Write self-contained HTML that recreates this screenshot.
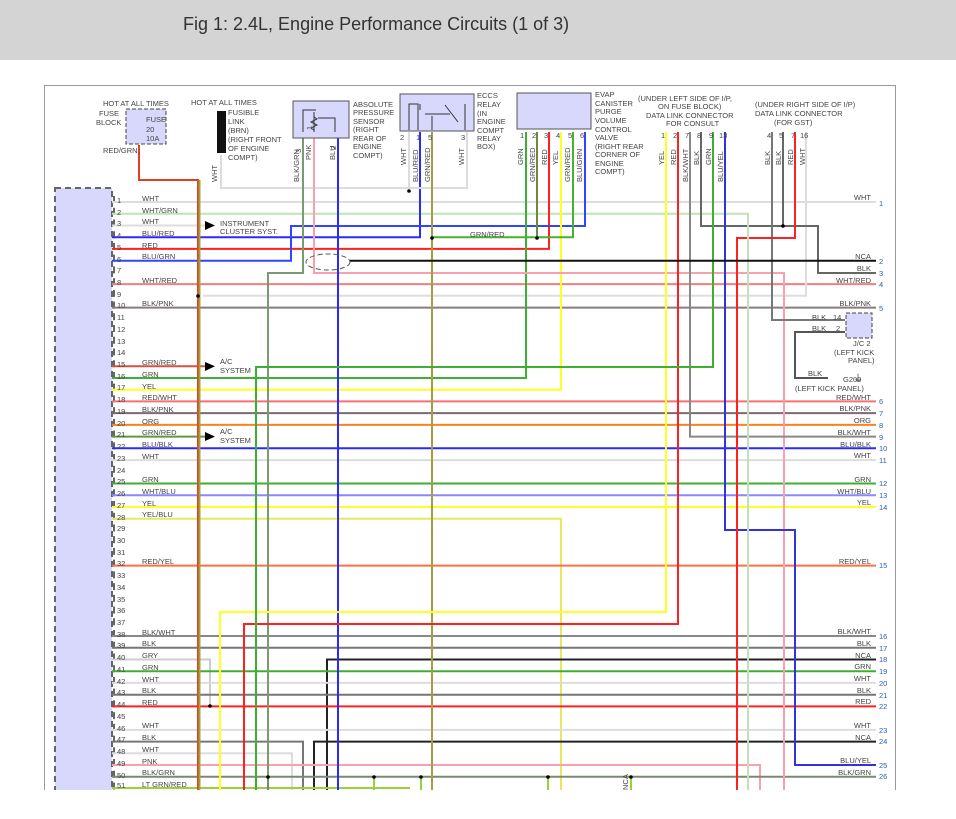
<!DOCTYPE html>
<html><head><meta charset="utf-8"><style>
body{margin:0;background:#fff;}
svg{display:block;font-family:"Liberation Sans",sans-serif;}
.t{font-size:7.5px;fill:#444;}
.n{font-size:7.5px;fill:#444;}
.r{font-size:7.5px;fill:#444;text-anchor:end;}
.rn{font-size:7.5px;fill:#2a5db0;}
line,polyline{fill:none;stroke-width:2;}
</style></head><body>
<svg width="956" height="819" viewBox="0 0 956 819">
<rect x="0" y="0" width="956" height="60" fill="#d4d4d4"/>
<text x="183" y="30" font-size="18" fill="#333">Fig 1: 2.4L, Engine Performance Circuits (1 of 3)</text>
<rect x="44.5" y="85.5" width="851" height="740" fill="none" stroke="#999" stroke-width="1"/>
<rect x="896" y="85" width="60" height="734" fill="#fff"/>

<rect x="55" y="188" width="57" height="610" fill="#d8d8fc" stroke="#666" stroke-width="2" stroke-dasharray="6,4"/>
<line x1="114" y1="196" x2="114" y2="790" stroke="#666" stroke-width="1.5" stroke-dasharray="7,4.73"/>

<g stroke-width="2">
<line x1="112" y1="202" x2="876" y2="202" stroke="#ddd"/>
<line x1="112" y1="213.7" x2="749" y2="213.7" stroke="#c4e0b8"/>
<line x1="112" y1="225.5" x2="205" y2="225.5" stroke="#ddd"/>
<polyline points="112,237.2 420,237.2 420,132" stroke="#2a2aff"/>
<polyline points="112,248.9 549,248.9 549,132" stroke="#ff2020"/>
<polyline points="112,260.7 291,260.7 291,226 585,226 585,132" stroke="#3344ff"/>
<polyline points="112,284.1 876,284.1" stroke="#f08080"/>
<polyline points="203,295.8 806,295.8 806,132" stroke="#ddd"/>
<line x1="112" y1="307.6" x2="876" y2="307.6" stroke="#8a7a80"/>
<line x1="112" y1="366.2" x2="205" y2="366.2" stroke="#d85040"/>
<polyline points="112,378 526,378 526,132" stroke="#3cb030"/>
<polyline points="112,389.7 561,389.7 561,132" stroke="#ffff20"/>
<line x1="112" y1="401.4" x2="876" y2="401.4" stroke="#f87070"/>
<line x1="112" y1="413.1" x2="876" y2="413.1" stroke="#806870"/>
<line x1="112" y1="424.9" x2="876" y2="424.9" stroke="#ff8020"/>
<line x1="112" y1="436.6" x2="205" y2="436.6" stroke="#5a9a40"/>
<line x1="112" y1="448.3" x2="876" y2="448.3" stroke="#2a2aff"/>
<line x1="112" y1="460.1" x2="876" y2="460.1" stroke="#ddd"/>
<line x1="112" y1="483.5" x2="876" y2="483.5" stroke="#3cb030"/>
<line x1="112" y1="495.3" x2="876" y2="495.3" stroke="#8888ff"/>
<line x1="112" y1="507" x2="876" y2="507" stroke="#ffff20"/>
<polyline points="112,518.7 561,518.7 561,790" stroke="#e8e860"/>
<line x1="112" y1="565.6" x2="876" y2="565.6" stroke="#ff7040"/>
<line x1="112" y1="636" x2="876" y2="636" stroke="#888"/>
<line x1="112" y1="647.7" x2="876" y2="647.7" stroke="#777"/>
<polyline points="112,659.5 210,659.5 210,706" stroke="#ccc"/>
<polyline points="327,790 327,659.5 876,659.5" stroke="#222"/>
<line x1="112" y1="671.2" x2="876" y2="671.2" stroke="#3cb030"/>
<line x1="112" y1="682.9" x2="876" y2="682.9" stroke="#ddd"/>
<line x1="112" y1="694.7" x2="876" y2="694.7" stroke="#777"/>
<line x1="112" y1="706.4" x2="876" y2="706.4" stroke="#ff2020"/>
<line x1="112" y1="729.9" x2="876" y2="729.9" stroke="#ddd"/>
<polyline points="314,790 314,741.6 876,741.6" stroke="#222"/>
<polyline points="112,741.6 303,741.6 303,790" stroke="#777"/>
<polyline points="112,753.3 292,753.3 292,790" stroke="#ddd"/>
<polyline points="112,765 760,765 760,790" stroke="#f8a0b0"/>
<line x1="112" y1="776.8" x2="876" y2="776.8" stroke="#7a8a70"/>
<line x1="112" y1="788" x2="410" y2="788" stroke="#9ad040"/>

<polyline points="139,145 139,180 198,180 198,790" stroke="#e04020"/>
<line x1="199.5" y1="180" x2="199.5" y2="790" stroke="#a0a040" stroke-width="1"/>
<polyline points="221,155 221,188 467,188 467,132" stroke="#ddd"/>
<line x1="409" y1="132" x2="409" y2="188" stroke="#ddd"/>
<polyline points="303,132 303,273 268,273 268,790" stroke="#7a9a70"/>
<polyline points="314,132 314,273 784,273 784,790" stroke="#f8a0b0"/>
<line x1="338" y1="132" x2="338" y2="790" stroke="#2a2aff"/>
<line x1="432" y1="132" x2="432" y2="790" stroke="#a0a040"/>
<polyline points="432,237.2 573,237.2 573,132" stroke="#4ab030"/>
<line x1="537" y1="132" x2="537" y2="237" stroke="#6a8a40"/>
<polyline points="666,132 666,612 220,612 220,790" stroke="#ffff20"/>
<polyline points="678,132 678,624 244,624 244,790" stroke="#ff2020"/>
<polyline points="690,132 690,436.6 876,436.6" stroke="#888"/>
<polyline points="701,132 701,226 818,226 818,273 876,273" stroke="#666"/>
<polyline points="713,132 713,367 256,367 256,790" stroke="#3cb030"/>
<polyline points="725,132 725,530 795,530 795,765 876,765" stroke="#3333dd"/>
<polyline points="772,132 772,320 845,320" stroke="#777"/>
<line x1="783" y1="132" x2="783" y2="226" stroke="#666"/>
<polyline points="795,132 795,238 737,238 737,790" stroke="#ff2020"/>
<line x1="748" y1="213.7" x2="748" y2="790" stroke="#c4e0b8"/>
<polyline points="845,332 795,332 795,378 828,378" stroke="#555"/>
<line x1="350" y1="260.7" x2="876" y2="260.7" stroke="#111"/>
<line x1="268" y1="776.8" x2="268" y2="790" stroke="#7a8a70"/>
<line x1="374" y1="776.8" x2="374" y2="790" stroke="#9ad040"/>
<line x1="421" y1="776.8" x2="421" y2="790" stroke="#9ad040"/>
<line x1="548" y1="776.8" x2="548" y2="790" stroke="#9ad040"/>
<line x1="631" y1="776.8" x2="631" y2="790" stroke="#9ad040"/>
</g>
<rect x="0" y="790" width="956" height="29" fill="#fff"/>

<ellipse cx="328" cy="262" rx="22" ry="8" fill="none" stroke="#555" stroke-width="1" stroke-dasharray="5,3"/>

<g fill="#000">
<circle cx="409" cy="191" r="1.8"/><circle cx="198" cy="296" r="1.8"/><circle cx="432" cy="238" r="1.8"/>
<circle cx="537" cy="238" r="1.8"/><circle cx="783" cy="226" r="1.8"/><circle cx="210" cy="706" r="1.8"/>
<circle cx="268" cy="777" r="1.8"/><circle cx="374" cy="777" r="1.8"/><circle cx="421" cy="777" r="1.8"/>
<circle cx="548" cy="777" r="1.8"/><circle cx="631" cy="777" r="1.8"/>
<polygon points="205,221 215,225.5 205,230"/><polygon points="205,362 215,366.2 205,371"/><polygon points="205,432 215,436.6 205,441"/>
</g>

<rect x="126" y="109" width="40" height="35" fill="#d8d8fc" stroke="#444" stroke-dasharray="4,2"/>
<rect x="217" y="111" width="9" height="42" fill="#111"/>
<rect x="293" y="101" width="56" height="37" fill="#d8d8fc" stroke="#555"/>
<rect x="400" y="94" width="74" height="37" fill="#d8d8fc" stroke="#555"/>
<rect x="517" y="93" width="74" height="36" fill="#d8d8fc" stroke="#555"/>
<rect x="846" y="313" width="26" height="25" fill="#d8d8fc" stroke="#444" stroke-dasharray="4,2"/>
<g fill="none" stroke="#333" stroke-width="1">
<path d="M303,132 V110 H316 M314,132 V112 M314,117 l3,2 -6,3 6,3 -6,3 3,2 M318,118 H335 V132"/>
<path d="M409,130 V104 H418 V130 M420,104 v6 M432,130 V116 M425,114 H450 M445,105 L458,122 M465,130 V104"/>
</g>
<text x="853" y="382" font-size="10" fill="#444">⏚</text>

<g class="t">
<text x="103" y="106">HOT AT ALL TIMES</text>
<text x="99" y="116">FUSE</text><text x="96" y="125">BLOCK</text>
<text x="146" y="122">FUSE</text><text x="146" y="132">20</text><text x="146" y="141">10A</text>
<text x="103" y="153">RED/GRN</text>
<text x="191" y="105">HOT AT ALL TIMES</text>
<text x="228" y="115">FUSIBLE</text><text x="228" y="124">LINK</text><text x="228" y="133">(BRN)</text>
<text x="228" y="142">(RIGHT FRONT</text><text x="228" y="151">OF ENGINE</text><text x="228" y="160">COMPT)</text>
<text x="353" y="107">ABSOLUTE</text><text x="353" y="115">PRESSURE</text><text x="353" y="124">SENSOR</text>
<text x="353" y="132">(RIGHT</text><text x="353" y="141">REAR OF</text><text x="353" y="149">ENGINE</text><text x="353" y="158">COMPT)</text>
<text x="477" y="98">ECCS</text><text x="477" y="107">RELAY</text><text x="477" y="116">(IN</text><text x="477" y="124">ENGINE</text>
<text x="477" y="133">COMPT</text><text x="477" y="141">RELAY</text><text x="477" y="149">BOX)</text>
<text x="595" y="97">EVAP</text><text x="595" y="106">CANISTER</text><text x="595" y="114">PURGE</text><text x="595" y="123">VOLUME</text>
<text x="595" y="132">CONTROL</text><text x="595" y="140">VALVE</text><text x="595" y="149">(RIGHT REAR</text>
<text x="595" y="157">CORNER OF</text><text x="595" y="166">ENGINE</text><text x="595" y="174">COMPT)</text>
<text x="638" y="101">(UNDER LEFT SIDE OF I/P,</text><text x="658" y="109">ON FUSE BLOCK)</text>
<text x="646" y="118">DATA LINK CONNECTOR</text><text x="666" y="126">FOR CONSULT</text>
<text x="755" y="107">(UNDER RIGHT SIDE OF I/P)</text><text x="755" y="116">DATA LINK CONNECTOR</text><text x="774" y="125">(FOR GST)</text>
<text x="220" y="226">INSTRUMENT</text><text x="220" y="234">CLUSTER SYST.</text>
<text x="220" y="364">A/C</text><text x="220" y="373">SYSTEM</text>
<text x="220" y="434">A/C</text><text x="220" y="443">SYSTEM</text>
<text x="470" y="237">GRN/RED</text>
<text x="812" y="320">BLK</text><text x="833" y="320">14</text>
<text x="812" y="331">BLK</text><text x="836" y="331">2</text>
<text x="853" y="346">J/C 2</text><text x="834" y="355">(LEFT KICK</text><text x="848" y="363">PANEL)</text>
<text x="808" y="376">BLK</text><text x="843" y="382">G200</text>
<text x="795" y="391">(LEFT KICK PANEL)</text>
</g>

<g class="t">
<text transform="translate(217,182) rotate(-90)">WHT</text>
<text transform="translate(299,182) rotate(-90)">BLK/GRN</text>
<text transform="translate(311,160) rotate(-90)">PNK</text>
<text transform="translate(335,160) rotate(-90)">BLU</text>
<text transform="translate(301,153) rotate(-90)">3</text><text transform="translate(312,130) rotate(-90)">1</text><text transform="translate(336,150) rotate(-90)">2</text>
<text transform="translate(406,165) rotate(-90)">WHT</text>
<text transform="translate(418,182) rotate(-90)">BLU/RED</text>
<text transform="translate(430,182) rotate(-90)">GRN/RED</text>
<text transform="translate(464,165) rotate(-90)">WHT</text>
<text transform="translate(523,165) rotate(-90)">GRN</text>
<text transform="translate(535,182) rotate(-90)">GRN/RED</text>
<text transform="translate(547,165) rotate(-90)">RED</text>
<text transform="translate(558,165) rotate(-90)">YEL</text>
<text transform="translate(570,182) rotate(-90)">GRN/RED</text>
<text transform="translate(582,182) rotate(-90)">BLU/GRN</text>
<text transform="translate(664,165) rotate(-90)">YEL</text>
<text transform="translate(676,165) rotate(-90)">RED</text>
<text transform="translate(688,182) rotate(-90)">BLK/WHT</text>
<text transform="translate(699,165) rotate(-90)">BLK</text>
<text transform="translate(711,165) rotate(-90)">GRN</text>
<text transform="translate(723,182) rotate(-90)">BLU/YEL</text>
<text transform="translate(770,165) rotate(-90)">BLK</text>
<text transform="translate(781,165) rotate(-90)">BLK</text>
<text transform="translate(793,165) rotate(-90)">RED</text>
<text transform="translate(805,165) rotate(-90)">WHT</text>
<text transform="translate(628,790) rotate(-90)">NCA</text>
</g>
<g class="t">
<text x="400" y="140">2</text><text x="416" y="140">1</text><text x="428" y="140">5</text><text x="461" y="140">3</text>
<text x="520" y="138">1</text><text x="532" y="138">2</text><text x="544" y="138">3</text><text x="556" y="138">4</text><text x="568" y="138">5</text><text x="580" y="138">6</text>
<text x="661" y="138">1</text><text x="673" y="138">2</text><text x="685" y="138">7</text><text x="697" y="138">8</text><text x="709" y="138">9</text><text x="719" y="138">13</text>
<text x="767" y="138">4</text><text x="779" y="138">5</text><text x="791" y="138">7</text><text x="800" y="138">16</text>
</g>

<g class="n">
<text x="117" y="203">1</text><text x="117" y="215">2</text><text x="117" y="226">3</text><text x="117" y="238">4</text><text x="117" y="250">5</text>
<text x="117" y="262">6</text><text x="117" y="273">7</text><text x="117" y="285">8</text><text x="117" y="297">9</text><text x="117" y="308">10</text>
<text x="117" y="320">11</text><text x="117" y="332">12</text><text x="117" y="344">13</text><text x="117" y="355">14</text><text x="117" y="367">15</text>
<text x="117" y="379">16</text><text x="117" y="390">17</text><text x="117" y="402">18</text><text x="117" y="414">19</text><text x="117" y="426">20</text>
<text x="117" y="437">21</text><text x="117" y="449">22</text><text x="117" y="461">23</text><text x="117" y="473">24</text><text x="117" y="484">25</text>
<text x="117" y="496">26</text><text x="117" y="508">27</text><text x="117" y="520">28</text><text x="117" y="531">29</text><text x="117" y="543">30</text>
<text x="117" y="555">31</text><text x="117" y="566">32</text><text x="117" y="578">33</text><text x="117" y="590">34</text><text x="117" y="602">35</text>
<text x="117" y="613">36</text><text x="117" y="625">37</text><text x="117" y="637">38</text><text x="117" y="648">39</text><text x="117" y="660">40</text>
<text x="117" y="672">41</text><text x="117" y="684">42</text><text x="117" y="695">43</text><text x="117" y="707">44</text><text x="117" y="719">45</text>
<text x="117" y="731">46</text><text x="117" y="742">47</text><text x="117" y="754">48</text><text x="117" y="766">49</text><text x="117" y="778">50</text>
<text x="117" y="788">51</text>
</g>
<g class="t">
<text x="142" y="201">WHT</text><text x="142" y="213">WHT/GRN</text><text x="142" y="224">WHT</text><text x="142" y="236">BLU/RED</text>
<text x="142" y="248">RED</text><text x="142" y="259">BLU/GRN</text><text x="142" y="283">WHT/RED</text><text x="142" y="306">BLK/PNK</text>
<text x="142" y="365">GRN/RED</text><text x="142" y="377">GRN</text><text x="142" y="389">YEL</text><text x="142" y="400">RED/WHT</text>
<text x="142" y="412">BLK/PNK</text><text x="142" y="424">ORG</text><text x="142" y="435">GRN/RED</text><text x="142" y="447">BLU/BLK</text>
<text x="142" y="459">WHT</text><text x="142" y="482">GRN</text><text x="142" y="494">WHT/BLU</text><text x="142" y="506">YEL</text>
<text x="142" y="517">YEL/BLU</text><text x="142" y="564">RED/YEL</text><text x="142" y="635">BLK/WHT</text><text x="142" y="646">BLK</text>
<text x="142" y="658">GRY</text><text x="142" y="670">GRN</text><text x="142" y="682">WHT</text><text x="142" y="693">BLK</text>
<text x="142" y="705">RED</text><text x="142" y="728">WHT</text><text x="142" y="740">BLK</text><text x="142" y="752">WHT</text>
<text x="142" y="764">PNK</text><text x="142" y="775">BLK/GRN</text><text x="142" y="787">LT GRN/RED</text>
</g>

<g class="r">
<text x="871" y="200">WHT</text><text x="871" y="259">NCA</text><text x="871" y="271">BLK</text><text x="871" y="283">WHT/RED</text>
<text x="871" y="306">BLK/PNK</text><text x="871" y="400">RED/WHT</text><text x="871" y="411">BLK/PNK</text><text x="871" y="423">ORG</text>
<text x="871" y="435">BLK/WHT</text><text x="871" y="447">BLU/BLK</text><text x="871" y="458">WHT</text><text x="871" y="482">GRN</text>
<text x="871" y="494">WHT/BLU</text><text x="871" y="505">YEL</text><text x="871" y="564">RED/YEL</text><text x="871" y="634">BLK/WHT</text>
<text x="871" y="646">BLK</text><text x="871" y="658">NCA</text><text x="871" y="669">GRN</text><text x="871" y="681">WHT</text>
<text x="871" y="693">BLK</text><text x="871" y="704">RED</text><text x="871" y="728">WHT</text><text x="871" y="740">NCA</text>
<text x="871" y="763">BLU/YEL</text><text x="871" y="775">BLK/GRN</text>
</g>
<g class="rn">
<text x="879" y="206">1</text><text x="879" y="264">2</text><text x="879" y="276">3</text><text x="879" y="287">4</text>
<text x="879" y="311">5</text><text x="879" y="404">6</text><text x="879" y="416">7</text><text x="879" y="428">8</text>
<text x="879" y="440">9</text><text x="879" y="451">10</text><text x="879" y="463">11</text><text x="879" y="486">12</text>
<text x="879" y="498">13</text><text x="879" y="510">14</text><text x="879" y="568">15</text><text x="879" y="639">16</text>
<text x="879" y="651">17</text><text x="879" y="662">18</text><text x="879" y="674">19</text><text x="879" y="686">20</text>
<text x="879" y="698">21</text><text x="879" y="709">22</text><text x="879" y="733">23</text><text x="879" y="744">24</text>
<text x="879" y="768">25</text><text x="879" y="779">26</text>
</g>
</svg>
</body></html>
